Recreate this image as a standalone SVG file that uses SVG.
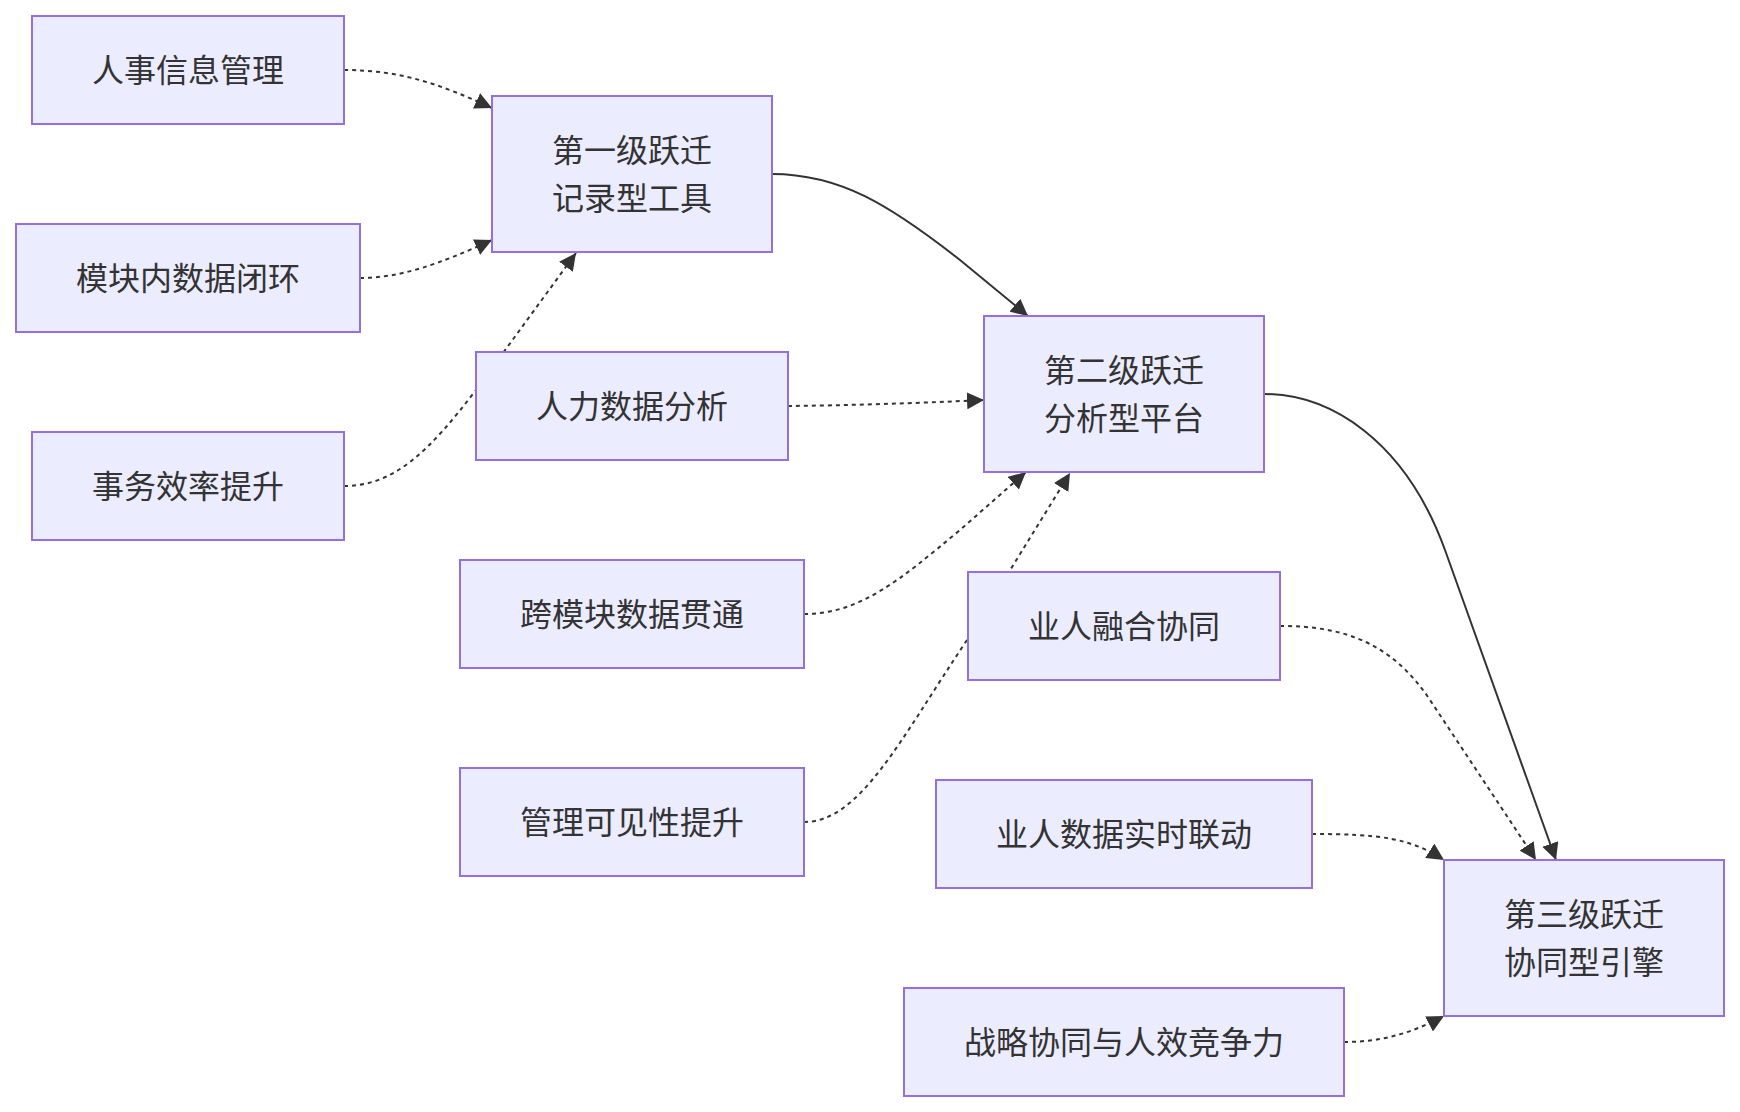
<svg xmlns="http://www.w3.org/2000/svg" width="1740" height="1112" viewBox="0 0 1740 1112">
<style>
.node rect{fill:#ECECFF;stroke:#9370DB;stroke-width:2}
.node text{font-family:"Noto Sans CJK SC","Noto Sans",sans-serif;font-size:32px;fill:#333;text-anchor:middle;dominant-baseline:central}
.edge{fill:none;stroke:#333;stroke-width:2}
.dot{stroke-dasharray:4 4}
</style>
<defs>
<marker id="arrow" viewBox="0 0 10 10" refX="10" refY="5" markerUnits="userSpaceOnUse" markerWidth="17" markerHeight="17" orient="auto">
<path d="M0,0 L10,5 L0,10 z" fill="#333"/>
</marker>
</defs>
<rect width="1740" height="1112" fill="#ffffff"/>
<g id="connectors">
<path class="edge dot" d="M344,70 C400,70 440,84 492,108" marker-end="url(#arrow)"/>
<path class="edge dot" d="M360,278 C400,278 440,264 492,240" marker-end="url(#arrow)"/>
<path class="edge dot" d="M344,486 C395,486 430,450 476,390 L576,253" marker-end="url(#arrow)"/>
<path class="edge" d="M772,174 C840,174 890,205 960,260 L1028,316" marker-end="url(#arrow)"/>
<path class="edge dot" d="M788,406 Q880,405 984,400" marker-end="url(#arrow)"/>
<path class="edge dot" d="M804,614 C860,614 900,580 960,530 L1026,472" marker-end="url(#arrow)"/>
<path class="edge dot" d="M804,822 C860,822 900,740 967,640 L1070,473" marker-end="url(#arrow)"/>
<path class="edge" d="M1264,394 C1330,394 1405,440 1445,550 L1556,860" marker-end="url(#arrow)"/>
<path class="edge dot" d="M1280,626 C1340,626 1390,640 1430,700 L1536,860" marker-end="url(#arrow)"/>
<path class="edge dot" d="M1312,834 C1380,834 1410,838 1444,860" marker-end="url(#arrow)"/>
<path class="edge dot" d="M1344,1042 C1380,1042 1410,1034 1444,1016" marker-end="url(#arrow)"/>
</g>
<g id="n-a" class="node"><rect x="32" y="16" width="312" height="108"/><text x="188" y="68">人事信息管理</text></g>
<g id="n-b" class="node"><rect x="16" y="224" width="344" height="108"/><text x="188" y="276">模块内数据闭环</text></g>
<g id="n-c" class="node"><rect x="32" y="432" width="312" height="108"/><text x="188" y="484">事务效率提升</text></g>
<g id="n-l1" class="node"><rect x="492" y="96" width="280" height="156"/><text x="632" y="148">第一级跃迁</text><text x="632" y="196">记录型工具</text></g>
<g id="n-d" class="node"><rect x="476" y="352" width="312" height="108"/><text x="632" y="404">人力数据分析</text></g>
<g id="n-e" class="node"><rect x="460" y="560" width="344" height="108"/><text x="632" y="612">跨模块数据贯通</text></g>
<g id="n-f" class="node"><rect x="460" y="768" width="344" height="108"/><text x="632" y="820">管理可见性提升</text></g>
<g id="n-l2" class="node"><rect x="984" y="316" width="280" height="156"/><text x="1124" y="368">第二级跃迁</text><text x="1124" y="416">分析型平台</text></g>
<g id="n-g" class="node"><rect x="968" y="572" width="312" height="108"/><text x="1124" y="624">业人融合协同</text></g>
<g id="n-h" class="node"><rect x="936" y="780" width="376" height="108"/><text x="1124" y="832">业人数据实时联动</text></g>
<g id="n-i" class="node"><rect x="904" y="988" width="440" height="108"/><text x="1124" y="1040">战略协同与人效竞争力</text></g>
<g id="n-l3" class="node"><rect x="1444" y="860" width="280" height="156"/><text x="1584" y="912">第三级跃迁</text><text x="1584" y="960">协同型引擎</text></g>
</svg>
